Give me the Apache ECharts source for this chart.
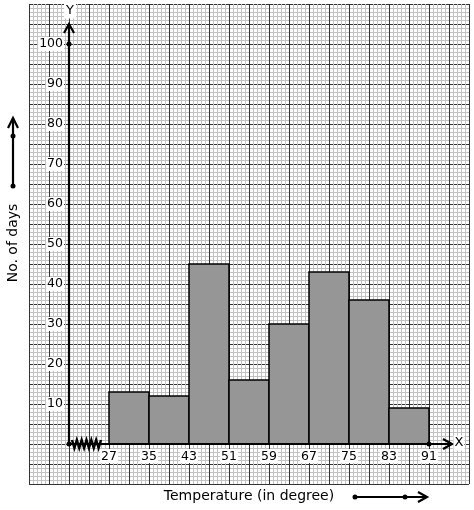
<!DOCTYPE html>
<html><head><meta charset="utf-8">
<script src="https://cdn.jsdelivr.net/npm/echarts@6/dist/echarts.min.js"></script>
<style>html,body{margin:0;padding:0;background:#fff}#c{width:474px;height:510px}</style>
</head><body><div id="c"></div>
<script>
// ---- data ----
const classStarts = [27, 35, 43, 51, 59, 67, 75, 83];
const classEnds   = [35, 43, 51, 59, 67, 75, 83, 91];
const days        = [13, 12, 45, 16, 30, 43, 36, 9];
const xTicks = [27, 35, 43, 51, 59, 67, 75, 83, 91];
const yTicks = [10, 20, 30, 40, 50, 60, 70, 80, 90, 100];
const xTitle = 'Temperature (in degree)';
const yTitle = 'No. of days';
const xAxisLetter = 'X';
const yAxisLetter = 'Y';

const FONT = 'DejaVu Sans';
const MINOR = '#c2c2c2', MAJOR = '#333333';
const chart = echarts.init(document.getElementById('c'), null, {renderer: 'canvas'});

function paperAxis(max, step, color, z) {
  return {
    type: 'value', min: 0, max: max, interval: step, z: z,
    axisLine: {show: false}, axisTick: {show: false}, axisLabel: {show: false},
    splitLine: {show: true, lineStyle: {color: color, width: 1}}
  };
}

const labelStyle = {
  color: '#000', fontFamily: FONT, fontSize: 12.5,
  backgroundColor: '#fff', padding: [1, 1, 0, 1]
};

chart.setOption({
  animation: false,
  backgroundColor: '#fff',
  grid: {left: 29, top: 4, width: 440, height: 480, containLabel: false},
  xAxis: [
    {type: 'value', min: 11, max: 99, position: 'bottom', offset: -40, z: 10,
     axisLine: {show: false}, axisTick: {show: false}, splitLine: {show: false},
     axisLabel: Object.assign({customValues: xTicks, margin: 5}, labelStyle)},
    paperAxis(440, 4, MINOR, 3),
    paperAxis(440, 20, MAJOR, 4)
  ],
  yAxis: [
    {type: 'value', min: -10, max: 110, position: 'left', offset: -40, z: 10,
     axisLine: {show: false}, axisTick: {show: false}, splitLine: {show: false},
     axisLabel: Object.assign({customValues: yTicks, margin: 5}, labelStyle)},
    paperAxis(480, 4, MINOR, 1),
    paperAxis(480, 20, MAJOR, 2)
  ],
  series: [{
    type: 'custom', xAxisIndex: 0, yAxisIndex: 0, z: 6,
    encode: {x: [0, 1], y: 2},
    data: classStarts.map((s, i) => [s, classEnds[i], days[i]]),
    renderItem: function (params, api) {
      const p0 = api.coord([api.value(0), api.value(2)]);
      const p1 = api.coord([api.value(1), 0]);
      return {type: 'rect',
        shape: {x: p0[0], y: p0[1], width: p1[0] - p0[0], height: p1[1] - p0[1]},
        style: {fill: '#969696', stroke: '#000', lineWidth: 1.5}};
    }
  }]
});

// ---- decorations (axes, arrows, zigzag, titles) ----
const px = v => chart.convertToPixel({xAxisIndex: 0, yAxisIndex: 0}, v);
const O = px([19, 0]);
const yTop = px([19, 105]);
const xEnd = px([95.6, 0]);
const dot100 = px([19, 100]);
const dot91 = px([91, 0]);
const zzA = px([19.6, 0]), zzB = px([25.4, 0]);
const zig = [];
const nz = 12;
for (let i = 0; i <= nz; i++) {
  const x = zzA[0] + (zzB[0] - zzA[0]) * i / nz;
  zig.push([x, O[1] + (i % 2 === 0 ? -4 : 4)]);
}
const blk = {stroke: '#000', lineWidth: 2.2, fill: null};
const g = [
  {type: 'line', shape: {x1: O[0], y1: O[1], x2: O[0], y2: yTop[1]}, style: blk, z: 20},
  {type: 'polyline', shape: {points: [[O[0] - 5, yTop[1] + 9], [O[0], yTop[1]], [O[0] + 5, yTop[1] + 9]]}, style: blk, z: 20},
  {type: 'line', shape: {x1: O[0], y1: O[1], x2: xEnd[0], y2: O[1]}, style: blk, z: 20},
  {type: 'polyline', shape: {points: [[xEnd[0] - 9, O[1] - 5], [xEnd[0], O[1]], [xEnd[0] - 9, O[1] + 5]]}, style: blk, z: 20},
  {type: 'polyline', shape: {points: zig}, style: {stroke: '#000', lineWidth: 2.5, fill: null}, z: 21},
  {type: 'circle', shape: {cx: O[0], cy: O[1], r: 2.5}, style: {fill: '#000'}, z: 21},
  {type: 'circle', shape: {cx: dot100[0], cy: dot100[1], r: 2.5}, style: {fill: '#000'}, z: 21},
  {type: 'circle', shape: {cx: dot91[0], cy: dot91[1], r: 2.5}, style: {fill: '#000'}, z: 21},
  {type: 'text', x: O[0] + 1, y: yTop[1] - 13, z: 21,
   style: {text: yAxisLetter, fontFamily: FONT, fontSize: 13, fill: '#000', align: 'center', verticalAlign: 'middle', backgroundColor: '#fff', padding: [1, 2]}},
  {type: 'text', x: xEnd[0] + 7, y: O[1] - 1, z: 21,
   style: {text: xAxisLetter, fontFamily: FONT, fontSize: 13, fill: '#000', align: 'center', verticalAlign: 'middle', backgroundColor: '#fff', padding: [1, 1]}},
  // titles
  {type: 'text', x: 13, y: 243, rotation: Math.PI / 2, z: 21,
   style: {text: yTitle, fontFamily: FONT, fontSize: 14, fill: '#000', align: 'center', verticalAlign: 'middle'}},
  {type: 'text', x: 249, y: 496, z: 21,
   style: {text: xTitle, fontFamily: FONT, fontSize: 14, fill: '#000', align: 'center', verticalAlign: 'middle'}},
  // left annotation arrow
  {type: 'line', shape: {x1: 13, y1: 186, x2: 13, y2: 118}, style: blk, z: 20},
  {type: 'polyline', shape: {points: [[8, 128], [13, 118], [18, 128]]}, style: blk, z: 20},
  {type: 'circle', shape: {cx: 13, cy: 186, r: 2.5}, style: {fill: '#000'}, z: 21},
  {type: 'circle', shape: {cx: 13, cy: 136, r: 2.5}, style: {fill: '#000'}, z: 21},
  // bottom annotation arrow
  {type: 'line', shape: {x1: 355, y1: 497, x2: 427, y2: 497}, style: blk, z: 20},
  {type: 'polyline', shape: {points: [[418, 492], [427, 497], [418, 502]]}, style: blk, z: 20},
  {type: 'circle', shape: {cx: 355, cy: 497, r: 2.5}, style: {fill: '#000'}, z: 21},
  {type: 'circle', shape: {cx: 405, cy: 497, r: 2.5}, style: {fill: '#000'}, z: 21}
];
chart.setOption({graphic: g});
</script>
</body></html>
